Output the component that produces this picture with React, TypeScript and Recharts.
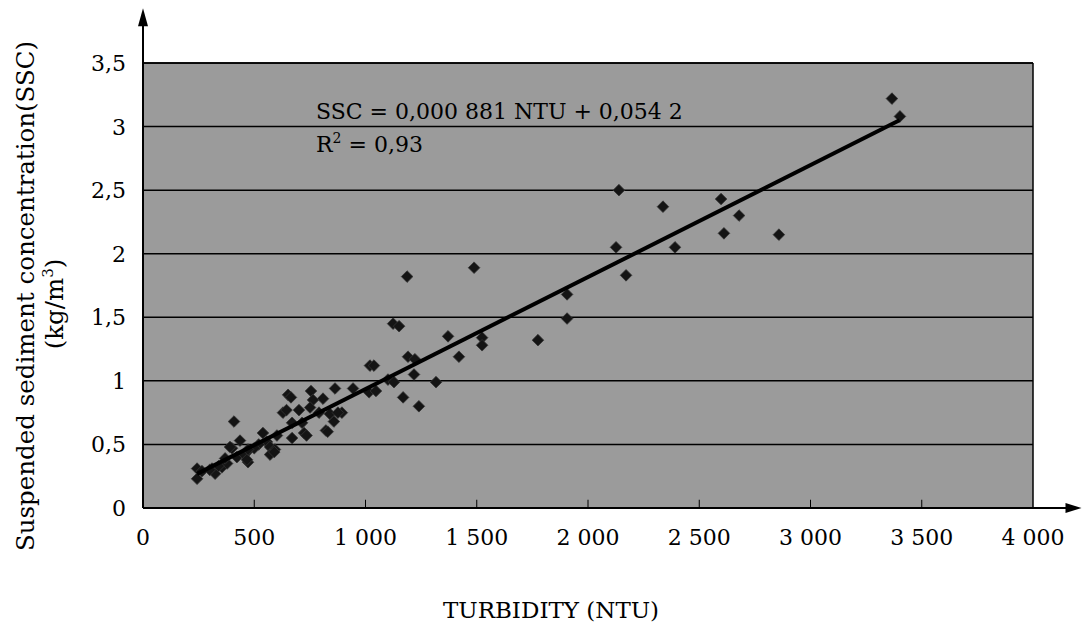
import React from 'react';
import { ScatterChart, Scatter, XAxis, YAxis, CartesianGrid, ReferenceLine, Customized } from 'recharts';

const turbidity = [
  3366, 3402, 2139, 2337, 2598, 2679, 2611, 2858, 2126, 2391, 2171, 1488, 1187, 1906, 1906,
  1371, 1775, 1524, 1524, 1124, 1151, 1420, 1191, 1222, 1218, 1020, 1038, 1317, 1101, 1128,
  1240, 1169, 944, 1016, 1047, 894,
  652, 665, 755, 863, 809, 764, 409, 629, 645, 701, 751, 791, 840, 876, 858, 670, 715, 822, 830,
  724, 735, 670, 539, 602, 436, 557, 571, 593, 571, 590, 400, 467, 422, 472, 520, 500,
  243, 243, 265, 310, 324, 355, 378, 369, 391, 455, 467, 472, 300, 340,
];
const ssc = [
  3.22, 3.08, 2.5, 2.37, 2.43, 2.3, 2.16, 2.15, 2.05, 2.05, 1.83, 1.89, 1.82, 1.68, 1.49,
  1.35, 1.32, 1.34, 1.28, 1.45, 1.43, 1.19, 1.19, 1.17, 1.05, 1.12, 1.12, 0.99, 1.01, 0.99,
  0.8, 0.87, 0.94, 0.91, 0.92, 0.75,
  0.89, 0.87, 0.92, 0.94, 0.86, 0.85, 0.68, 0.75, 0.77, 0.77, 0.79, 0.75, 0.74, 0.75, 0.68, 0.67, 0.67, 0.61, 0.6,
  0.59, 0.57, 0.55, 0.59, 0.57, 0.53, 0.52, 0.48, 0.46, 0.42, 0.44, 0.47, 0.44, 0.4, 0.36, 0.5, 0.47,
  0.31, 0.23, 0.29, 0.31, 0.27, 0.32, 0.35, 0.39, 0.48, 0.42, 0.38, 0.46, 0.3, 0.33,
];

const xTicks = [0, 500, 1000, 1500, 2000, 2500, 3000, 3500, 4000];
const yTicks = [0, 0.5, 1, 1.5, 2, 2.5, 3, 3.5];
const slope = 0.000881;
const intercept = 0.0542;
const trendRange = [243, 3400];
const equationText = 'SSC = 0,000 881 NTU + 0,054 2';
const r2Text = '0,93';

const points = turbidity.map((t, i) => ({ x: t, y: ssc[i] }));
const trend = trendRange.map((t) => ({ x: t, y: slope * t + intercept }));

const FONT = 'DejaVu Serif';
const FS = 22;

const fmtX = (v: number) => (v >= 1000 ? `${Math.floor(v / 1000)} ${String(v % 1000).padStart(3, '0')}` : String(v));
const fmtY = (v: number) => String(v).replace('.', ',');

const Diamond = (props: any) => {
  const { cx, cy } = props;
  const r = 5.8;
  return (
    <polygon
      points={`${cx},${cy - r} ${cx + r},${cy} ${cx},${cy + r} ${cx - r},${cy}`}
      fill="#141414"
      stroke="#333"
      strokeWidth={0.8}
    />
  );
};

const XTick = (props: any) => {
  const { x, y, payload } = props;
  return (
    <text x={x} y={y + 37} textAnchor="middle" fontFamily={FONT} fontSize={FS} fill="#000">
      {fmtX(payload.value)}
    </text>
  );
};

const YTick = (props: any) => {
  const { y, payload } = props;
  return (
    <text x={126} y={y + 8} textAnchor="end" fontFamily={FONT} fontSize={FS} fill="#000">
      {fmtY(payload.value)}
    </text>
  );
};

const XArrow = (props: any) => {
  const { x1, y1, x2, y2 } = props;
  return (
    <g>
      <line x1={x1} y1={y1} x2={x2 - 10} y2={y2} stroke="#000" strokeWidth={2} />
      <polygon points={`${x2},${y2} ${x2 - 16},${y2 - 5} ${x2 - 16},${y2 + 5}`} fill="#000" />
    </g>
  );
};

const YArrow = (props: any) => {
  const { x1, y1, x2, y2 } = props;
  const top = Math.min(y1, y2);
  const bottom = Math.max(y1, y2);
  return (
    <g>
      <line x1={x1} y1={bottom} x2={x2} y2={top + 10} stroke="#000" strokeWidth={2} />
      <polygon points={`${x1},${top} ${x1 - 5},${top + 18} ${x1 + 5},${top + 18}`} fill="#000" />
    </g>
  );
};

const Texts = () => (
  <g fontFamily={FONT} fill="#000">
    <text x={316} y={119} fontSize={FS}>{equationText}</text>
    <text x={316} y={152} fontSize={FS}>
      R<tspan dy={-9} fontSize={14}>2</tspan>
      <tspan dy={9}> = {r2Text}</tspan>
    </text>
    <text x={551} y={618} fontSize={23} textAnchor="middle">TURBIDITY (NTU)</text>
    <text x={34} y={296} fontSize={24.5} textAnchor="middle" transform="rotate(-90 34 296)">
      Suspended sediment concentration(SSC)
    </text>
    <text x={63} y={304} fontSize={24.5} textAnchor="middle" transform="rotate(-90 63 304)">
      (kg/m<tspan dy={-10} fontSize={15}>3</tspan><tspan dy={10}>)</tspan>
    </text>
  </g>
);

export default function App() {
  return (
    <div style={{ position: 'absolute', left: 0, top: 0, background: '#fff' }}>
      <ScatterChart width={1084} height={625} margin={{ top: 63, right: 51, bottom: 87, left: 83 }}>
        <CartesianGrid horizontal vertical={false} stroke="#000" strokeWidth={1.5} fill="#9b9b9b" fillOpacity={1} />
        <XAxis
          type="number"
          dataKey="x"
          domain={[0, 4000]}
          ticks={xTicks}
          tick={<XTick />}
          tickLine={false}
          axisLine={false}
          tickSize={0}
          tickMargin={0}
          height={30}
          interval={0}
        />
        <YAxis
          type="number"
          dataKey="y"
          domain={[0, 3.5]}
          ticks={yTicks}
          tick={<YTick />}
          tickLine={false}
          axisLine={false}
          tickSize={0}
          tickMargin={0}
          width={60}
          interval={0}
        />
        <ReferenceLine x={4000} stroke="#000" strokeWidth={1.5} />
        <ReferenceLine y={3.5} stroke="#000" strokeWidth={1.5} />
        {xTicks.slice(1, -1).map((t) => (
          <ReferenceLine key={t} segment={[{ x: t, y: 0 }, { x: t, y: 0.065 }]} stroke="#000" strokeWidth={1} />
        ))}
        <Scatter data={points} shape={<Diamond />} isAnimationActive={false} />
        <Scatter
          data={trend}
          line={{ stroke: '#000', strokeWidth: 4 }}
          shape={() => <g />}
          isAnimationActive={false}
        />
        <ReferenceLine
          segment={[{ x: 0, y: 0 }, { x: 4218, y: 0 }]}
          ifOverflow="visible"
          shape={<XArrow />}
        />
        <ReferenceLine
          segment={[{ x: 0, y: 0 }, { x: 0, y: 3.93 }]}
          ifOverflow="visible"
          shape={<YArrow />}
        />
        <Customized component={Texts} />
      </ScatterChart>
    </div>
  );
}
